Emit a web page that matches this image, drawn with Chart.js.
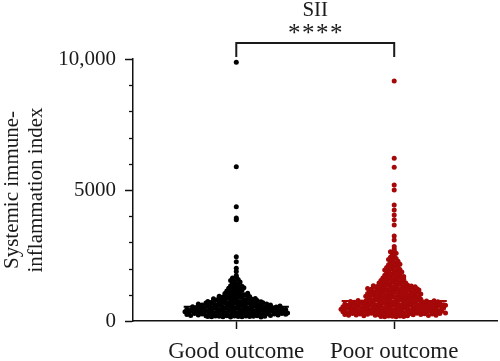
<!DOCTYPE html>
<html>
<head>
<meta charset="utf-8">
<script src="https://cdn.jsdelivr.net/npm/chart.js@4/dist/chart.umd.min.js"></script>
<style>
html,body{margin:0;padding:0;background:#fff;}
#wrap{width:500px;height:361px;position:relative;}
</style>
</head>
<body>
<div id="wrap"><canvas id="c" width="500" height="361"></canvas></div>
<script>
const categories = ['Good outcome', 'Poor outcome'];
const chartTitle = 'SII';
const significance = '****';
const yTickValues = [0, 5000, 10000];
const yTickLabels = ['0', '5000', '10,000'];
const yMinorStep = 1000;
const yAxisTitle = ['Systemic immune-', 'inflammation index'];

const goodValues = [
  172,158,194,181,165,199,153,187,176,162,191,169,184,197,156,178,
  247,213,286,232,269,204,258,295,221,241,277,209,263,290,227,252,216,281,237,299,244,272,206,266,229,284,255,
  352,318,387,335,371,304,359,396,327,344,381,311,366,393,322,349,307,376,338,362,399,315,355,384,331,368,342,301,
  448,412,486,431,467,403,455,494,425,441,479,408,462,497,418,451,436,473,405,489,444,421,459,483,415,470,438,
  547,512,583,529,566,504,553,597,521,540,578,508,561,591,534,517,572,545,588,525,556,501,538,569,
  648,615,683,631,667,604,655,694,622,640,676,611,660,688,636,671,626,699,652,608,
  742,715,781,729,763,706,751,795,722,737,772,711,758,786,733,
  846,812,883,829,867,804,855,894,821,872,838,861,
  944,913,981,928,962,907,953,992,936,
  1046,1012,1083,1029,1065,1004,1058,
  1143,1116,1182,1131,1165,
  1247,1214,1281,1232,1266,
  1345,1318,1382,1331,
  1442,1419,1487,
  1548,1521,1586,
  1642,1677,
  1735,1890,2010,2260,2450,3860,3930,4360,5890,9880
];

const poorValues = [
  172,158,194,181,165,188,176,199,
  251,217,284,233,268,205,259,296,224,242,277,211,263,291,229,254,214,281,238,299,246,272,208,265,221,287,
  353,316,388,334,372,305,361,397,325,346,382,311,367,393,321,349,308,377,339,363,399,318,356,385,331,342,374,302,
  446,413,484,432,466,404,457,495,424,441,478,409,463,498,417,452,437,474,406,488,443,421,459,481,428,469,401,492,
  548,511,584,528,567,503,552,596,522,541,579,507,562,591,533,516,573,546,588,526,557,502,537,569,514,581,544,599,
  647,613,684,632,668,605,656,693,621,641,677,609,661,689,636,618,672,645,697,627,653,602,681,664,638,686,616,
  743,716,782,728,764,705,752,796,721,738,773,709,757,789,733,712,768,747,792,724,759,701,776,735,
  846,813,882,829,866,804,855,893,821,838,874,808,861,897,834,
  944,912,983,927,962,905,953,991,921,938,974,909,958,996,931,
  1046,1013,1082,1028,1067,1005,1054,1093,1021,1039,1075,1009,1061,1097,1034,
  1147,1114,1183,1131,1166,1106,1155,1192,1122,1139,1174,1101,1158,1186,
  1245,1213,1284,1232,1267,1204,1256,1293,1221,1238,1276,1209,1262,1227,
  1348,1315,1386,1331,1364,1302,1357,1394,1323,1371,1339,1311,
  1446,1417,1483,1431,1465,1404,1492,1458,
  1548,1516,1582,1533,1567,1505,1594,
  1643,1612,1681,1628,1665,1606,
  1747,1714,1786,1729,1763,1702,
  1842,1815,1883,1827,1866,
  1946,1918,1982,1931,1964,
  2043,2015,2086,2061,
  2147,2118,2183,2162,
  2245,2214,2278,
  2348,2321,2385,
  2436,2472,2548,2583,2641,2676,2752,2843,
  3090,3240,3660,3860,4050,4240,4430,5000,5190,5870,6210,9160
];

const groupValues = [goodValues, poorValues];
const groupColors = ['#000000', '#a50808'];

function median(arr) {
  const s = arr.slice().sort((a, b) => a - b);
  const n = s.length;
  return n % 2 ? s[(n - 1) / 2] : (s[n / 2 - 1] + s[n / 2]) / 2;
}

const FONT = "'Liberation Serif', 'Times New Roman', serif";
const halfLine = 0.333; // half-width of the median line in category units
const rowValue = 100;   // value span of one swarm row
const dotGap = 3.8;     // px between dots in a row

const datasets = [];
groupValues.forEach((vals, i) => {
  datasets.push({
    type: 'scatter',
    label: categories[i],
    data: vals.map(v => ({x: i + 1, y: v})),
    backgroundColor: groupColors[i],
    borderWidth: 0,
    pointRadius: 2.5,
    pointHoverRadius: 2.5,
    order: 2
  });
});
groupValues.forEach((vals, i) => {
  const m = median(vals);
  datasets.push({
    type: 'line',
    label: categories[i] + ' median',
    data: [{x: i + 1 - halfLine, y: m}, {x: i + 1 + halfLine, y: m}],
    borderColor: groupColors[i],
    borderWidth: 2,
    pointRadius: 0,
    order: 1
  });
});

const decorPlugin = {
  id: 'decor',
  afterDraw(chart) {
    const {ctx, scales: {x, y}, chartArea} = chart;
    ctx.save();
    // minor ticks on y axis
    ctx.strokeStyle = '#111';
    ctx.lineWidth = 1.3;
    for (let v = y.min; v <= y.max; v += yMinorStep) {
      if (yTickValues.includes(v)) continue;
      const py = Math.round(y.getPixelForValue(v)) + 0.5;
      ctx.beginPath();
      ctx.moveTo(chartArea.left - 4, py);
      ctx.lineTo(chartArea.left, py);
      ctx.stroke();
    }
    // bracket + title
    const x1 = x.getPixelForValue(1), x2 = x.getPixelForValue(2);
    const xm = (x1 + x2) / 2;
    ctx.strokeStyle = '#1a1a1a';
    ctx.lineWidth = 2;
    ctx.beginPath();
    ctx.moveTo(x1, 57);
    ctx.lineTo(x1, 43);
    ctx.lineTo(x2, 43);
    ctx.lineTo(x2, 57);
    ctx.stroke();
    ctx.fillStyle = '#1a1a1a';
    ctx.textAlign = 'center';
    ctx.textBaseline = 'alphabetic';
    ctx.font = '21px ' + FONT;
    ctx.fillText(chartTitle, xm, 15.5);
    ctx.font = '25px ' + FONT;
    const n = significance.length;
    for (let k = 0; k < n; k++) {
      ctx.fillText(significance[k], xm + (k - (n - 1) / 2) * 14, 41);
    }
    ctx.restore();
  }
};

const chart = new Chart(document.getElementById('c'), {
  data: {datasets},
  options: {
    responsive: false,
    animation: false,
    events: [],
    layout: {padding: {top: 59, left: 0, right: 0, bottom: 0}},
    plugins: {legend: {display: false}, tooltip: {enabled: false}},
    scales: {
      x: {
        type: 'linear',
        min: 0.346,
        max: 2.654,
        afterBuildTicks: s => { s.ticks = categories.map((c, i) => ({value: i + 1})); },
        afterFit: s => { s.height = 40; },
        ticks: {
          callback: v => categories[v - 1],
          font: {family: FONT, size: 23},
          color: '#1a1a1a',
          padding: 9,
          maxRotation: 0,
          autoSkip: false
        },
        grid: {drawOnChartArea: false, tickLength: 8, tickColor: '#111', tickWidth: 1.5},
        border: {color: '#111', width: 1.5}
      },
      y: {
        type: 'linear',
        min: 0,
        max: 10000,
        afterBuildTicks: s => { s.ticks = yTickValues.map(v => ({value: v})); },
        afterFit: s => { s.width = 133; },
        ticks: {
          callback: (v) => yTickLabels[yTickValues.indexOf(v)],
          font: {family: FONT, size: 21},
          color: '#1a1a1a',
          padding: 9
        },
        grid: {drawOnChartArea: false, tickLength: 8, tickColor: '#111', tickWidth: 1.5},
        border: {color: '#111', width: 1.5},
        title: {
          display: true,
          text: yAxisTitle,
          font: {family: FONT, size: 21, lineHeight: 1.15},
          color: '#1a1a1a',
          padding: {top: 0, bottom: 0}
        }
      }
    }
  },
  plugins: [decorPlugin]
});

// beeswarm layout: dots of each value row sit on a staggered lattice around the category centre
(function swarm() {
  const xs = chart.scales.x, ys = chart.scales.y;
  const pxPerUnit = xs.getPixelForValue(2) - xs.getPixelForValue(1);
  const rowPx = ys.getPixelForValue(0) - ys.getPixelForValue(rowValue);
  groupValues.forEach((vals, i) => {
    const rows = new Map();
    vals.forEach((v, j) => {
      const r = Math.floor((ys.getPixelForValue(0) - ys.getPixelForValue(v)) / rowPx);
      if (!rows.has(r)) rows.set(r, []);
      rows.get(r).push(j);
    });
    const pts = chart.data.datasets[i].data;
    rows.forEach((idx, r) => {
      const n = idx.length;
      const shift = (n > 1 && r % 2) ? 0.5 : 0;
      const slots = [];
      for (let k = -n; k <= n; k++) slots.push((k + shift) * dotGap);
      slots.sort((a, b) => Math.abs(a) - Math.abs(b) || a - b);
      const use = slots.slice(0, n).sort((a, b) => a - b);
      idx.forEach((j, k) => {
        pts[j].x = i + 1 + use[k] / pxPerUnit;
      });
    });
  });
  chart.update('none');
})();
</script>
</body>
</html>
